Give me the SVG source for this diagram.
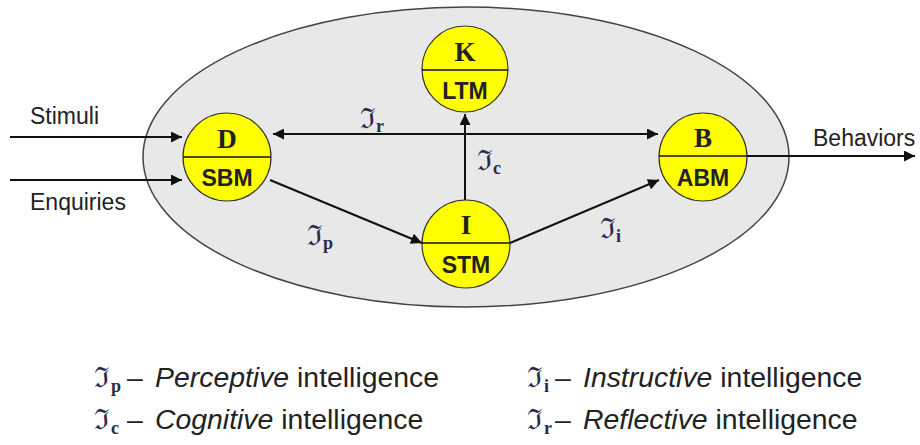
<svg xmlns="http://www.w3.org/2000/svg" width="920" height="445" viewBox="0 0 920 445">
<defs>
<marker id="ah" viewBox="0 0 10 10" refX="10" refY="5" markerWidth="12" markerHeight="11" markerUnits="userSpaceOnUse" orient="auto-start-reverse"><path d="M0,0 L10,5 L0,10 z" fill="#111"/></marker>
<style>
.node circle{fill:#ffff00;stroke:#333;stroke-width:1.2}
.node line{stroke:#111;stroke-width:1.6}
.ltr{font-family:"Liberation Serif",serif;font-weight:bold;font-size:27px;fill:#222;text-anchor:middle}
.abbr{font-family:"Liberation Sans",Arial,sans-serif;font-weight:bold;font-size:23px;fill:#222;text-anchor:middle}
.conn line{stroke:#111;stroke-width:2;marker-end:url(#ah)}
.lab{font-family:"Liberation Sans",Arial,sans-serif;font-size:23px;fill:#222}
.frak{font-family:"DejaVu Serif","Liberation Serif",serif;font-size:28px;fill:#2a2a50}
.sub{font-family:"Liberation Serif",serif;font-size:18px;font-weight:bold;fill:#2a2a50}
.leg{font-family:"Liberation Sans",Arial,sans-serif;font-size:28.4px;fill:#222}
</style>
</defs>
<rect width="920" height="445" fill="#fff"/>
<ellipse id="boundary" cx="466" cy="157" rx="323" ry="150" fill="#e8e8e8" stroke="#444" stroke-width="1.5"/>
<g class="conn">
<line x1="10" y1="137" x2="182" y2="137"/>
<line x1="10" y1="180" x2="182" y2="180"/>
<line x1="273" y1="134" x2="658" y2="134" marker-start="url(#ah)"/>
<line x1="465" y1="200" x2="465" y2="114"/>
<line x1="270" y1="180" x2="422" y2="243"/>
<line x1="510" y1="243" x2="659" y2="180"/>
<line x1="747" y1="156" x2="915" y2="156"/>
</g>
<g id="labels">
<text class="lab" x="30" y="124">Stimuli</text>
<text class="lab" x="30" y="210">Enquiries</text>
<text class="lab" x="813" y="146">Behaviors</text>
<text x="360" y="128"><tspan class="frak">ℑ</tspan><tspan class="sub" dy="4">r</tspan></text>
<text x="477" y="170"><tspan class="frak">ℑ</tspan><tspan class="sub" dy="4">c</tspan></text>
<text x="307" y="245"><tspan class="frak">ℑ</tspan><tspan class="sub" dy="4">p</tspan></text>
<text x="600" y="238"><tspan class="frak">ℑ</tspan><tspan class="sub" dy="4">i</tspan></text>
</g>
<g id="D" class="node"><circle cx="227" cy="157" r="44"/><line x1="183" y1="157" x2="271" y2="157"/><text class="ltr" x="227" y="148">D</text><text class="abbr" x="227" y="186">SBM</text></g>
<g id="K" class="node"><circle cx="465" cy="69" r="43"/><line x1="422" y1="70" x2="508" y2="70"/><text class="ltr" x="465" y="61">K</text><text class="abbr" x="465" y="99">LTM</text></g>
<g id="I" class="node"><circle cx="466" cy="244" r="44"/><line x1="422" y1="243" x2="510" y2="243"/><text class="ltr" x="466" y="234">I</text><text class="abbr" x="466" y="273">STM</text></g>
<g id="B" class="node"><circle cx="703" cy="157" r="44"/><line x1="659" y1="156" x2="747" y2="156"/><text class="ltr" x="703" y="147">B</text><text class="abbr" x="703" y="186">ABM</text></g>
<g id="legend">
<text y="387"><tspan class="frak" x="94" font-size="30">ℑ</tspan><tspan class="sub" x="111" dy="5">p</tspan><tspan class="leg" x="127" dy="-5">–</tspan><tspan class="leg" x="155" font-style="italic">Perceptive</tspan><tspan class="leg"> intelligence</tspan></text>
<text y="429"><tspan class="frak" x="94" font-size="30">ℑ</tspan><tspan class="sub" x="111" dy="5">c</tspan><tspan class="leg" x="127" dy="-5">–</tspan><tspan class="leg" x="155" font-style="italic">Cognitive</tspan><tspan class="leg"> intelligence</tspan></text>
<text y="387"><tspan class="frak" x="527" font-size="30">ℑ</tspan><tspan class="sub" x="544" dy="5">i</tspan><tspan class="leg" x="555" dy="-5">–</tspan><tspan class="leg" x="583" font-style="italic">Instructive</tspan><tspan class="leg"> intelligence</tspan></text>
<text y="429"><tspan class="frak" x="527" font-size="30">ℑ</tspan><tspan class="sub" x="544" dy="5">r</tspan><tspan class="leg" x="555" dy="-5">–</tspan><tspan class="leg" x="583" font-style="italic">Reflective</tspan><tspan class="leg"> intelligence</tspan></text>
</g>
</svg>
